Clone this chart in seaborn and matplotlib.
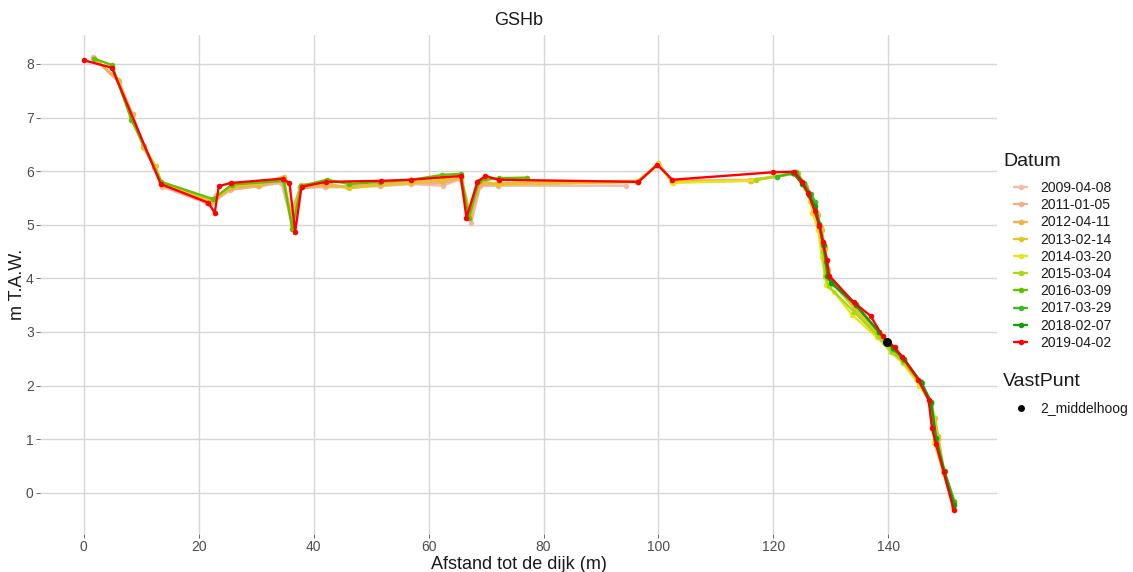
import matplotlib
matplotlib.use("Agg")
import matplotlib.pyplot as plt
from matplotlib.lines import Line2D
import seaborn as sns
import pandas as pd

# ---------------- data ----------------
dates = ["2009-04-08", "2011-01-05", "2012-04-11", "2013-02-14", "2014-03-20",
         "2015-03-04", "2016-03-09", "2017-03-29", "2018-02-07", "2019-04-02"]
colors = ["#F2BBA5", "#EFB083", "#EDB347", "#E6C32A", "#E8E61A",
          "#A8D814", "#62C000", "#3DB825", "#0E9E10", "#FF0000"]

x_2009 = [1.6, 6.1, 8.5, 10.5, 12.3, 13.6, 21.5, 23.0, 25.5, 30.5, 34.4, 36.2, 37.6,
          42.0, 46.0, 51.5, 57.0, 62.5, 65.5, 67.4, 69.0, 72.0, 94.3]
y_2009 = [8.13, 7.66, 7.05, 6.43, 6.08, 5.71, 5.40, 5.55, 5.65, 5.72, 5.78, 5.05, 5.70,
          5.70, 5.70, 5.72, 5.76, 5.73, 5.85, 5.03, 5.72, 5.73, 5.73]

x_2011 = [1.7, 6.1, 8.5, 10.4, 12.3, 13.6, 22.0, 25.6, 30.4, 34.6, 36.0, 37.6, 42.1,
          46.1, 51.6, 57.0, 62.5, 65.6, 67.2, 69.0, 72.1, 96.3, 100.0, 102.3, 116.0,
          123.5, 125.5, 126.5, 127.5, 128.2, 128.8, 129.4, 130.2, 134.2, 138.2, 140.5,
          142.5, 145.5, 147.3, 147.9, 148.5, 149.6, 151.3]
y_2011 = [8.12, 7.68, 7.06, 6.45, 6.07, 5.74, 5.38, 5.66, 5.72, 5.80, 5.14, 5.68, 5.72,
          5.72, 5.75, 5.78, 5.78, 5.86, 5.10, 5.74, 5.76, 5.80, 6.12, 5.82, 5.84,
          5.95, 5.72, 5.50, 5.22, 4.95, 4.60, 4.20, 3.95, 3.45, 2.98, 2.70,
          2.50, 2.08, 1.70, 1.30, 0.98, 0.40, -0.25]

x_2012 = [1.8, 6.0, 8.4, 10.5, 12.4, 13.5, 22.2, 25.7, 30.5, 34.5, 36.1, 37.7, 42.0,
          46.0, 51.5, 57.1, 62.4, 65.5, 67.1, 68.9, 72.0, 96.4, 100.0, 102.4, 116.1,
          123.7, 125.6, 126.6, 127.6, 128.3, 128.9, 129.3, 130.3, 134.3, 138.4, 140.6,
          142.7, 145.6, 147.4, 148.0, 148.6, 149.6, 151.3]
y_2012 = [8.11, 7.70, 7.04, 6.47, 6.09, 5.76, 5.42, 5.70, 5.74, 5.86, 5.20, 5.70, 5.74,
          5.70, 5.76, 5.80, 5.82, 5.88, 5.18, 5.78, 5.78, 5.82, 6.14, 5.80, 5.82,
          5.96, 5.70, 5.48, 5.20, 4.92, 4.58, 4.18, 3.92, 3.42, 2.96, 2.66,
          2.48, 2.05, 1.68, 1.35, 1.00, 0.38, -0.26]

x_2013 = [5.0, 8.3, 10.4, 12.5, 13.6, 22.4, 25.9, 30.6, 34.8, 36.3, 37.8, 42.2, 46.2,
          51.7, 57.0, 62.6, 65.7, 67.2, 69.0, 72.1, 96.5, 100.0, 102.4, 116.0,
          123.8, 125.7, 126.7, 127.7, 128.4, 129.0, 129.5, 130.4, 134.4, 138.5, 140.7,
          142.8, 145.7, 147.5, 148.1, 148.7, 149.7, 151.3]
y_2013 = [7.95, 7.02, 6.46, 6.10, 5.78, 5.45, 5.72, 5.76, 5.90, 5.00, 5.75, 5.78, 5.68,
          5.74, 5.78, 5.84, 5.90, 5.22, 5.82, 5.75, 5.80, 6.15, 5.80, 5.82,
          5.97, 5.70, 5.45, 5.18, 4.90, 4.55, 4.15, 3.90, 3.40, 2.95, 2.65,
          2.45, 2.05, 1.65, 1.40, 1.05, 0.40, -0.22]

x_2014 = [96.5, 100.0, 102.5, 117.0, 123.6, 125.5, 126.4, 126.8, 127.8, 128.4, 129.2,
          130.5, 133.7, 138.0, 140.5, 142.5, 145.4, 147.3, 147.6, 148.0, 149.6, 151.3]
y_2014 = [5.80, 6.13, 5.78, 5.83, 5.98, 5.68, 5.45, 5.22, 4.90, 4.40, 3.88,
          3.75, 3.32, 2.90, 2.62, 2.42, 2.00, 1.70, 1.49, 0.93, 0.37, -0.20]

x_2015 = [116.9, 120.7, 124.2, 125.5, 126.3, 127.3, 128.0, 128.6, 129.0, 129.6, 134.0,
          138.2, 140.6, 142.6, 145.6, 147.4, 148.2, 149.7, 151.5]
y_2015 = [5.84, 5.90, 5.96, 5.75, 5.55, 5.30, 4.95, 4.50, 4.05, 3.85, 3.38,
          2.92, 2.62, 2.44, 2.02, 1.66, 0.98, 0.38, -0.15]

x_2016 = [1.8, 4.9, 8.3, 13.5, 22.5, 25.8, 34.8, 36.3, 37.8, 42.3, 46.2, 51.6, 57.0,
          62.4, 65.6, 67.0, 68.8, 72.2, 77.2]
y_2016 = [8.10, 7.98, 6.96, 5.80, 5.48, 5.75, 5.82, 4.92, 5.72, 5.84, 5.76, 5.80, 5.84,
          5.93, 5.95, 5.13, 5.82, 5.87, 5.88]

x_2017 = [120.7, 124.0, 125.3, 126.5, 127.3, 128.0, 128.6, 129.2, 129.6, 134.3, 138.3,
          140.8, 142.8, 145.8, 147.5, 148.3, 149.8, 151.5]
y_2017 = [5.90, 5.98, 5.78, 5.58, 5.42, 5.00, 4.62, 4.30, 4.00, 3.52, 3.00,
          2.68, 2.48, 2.04, 1.68, 1.00, 0.40, -0.18]

x_2018 = [123.4, 125.0, 126.2, 127.2, 128.0, 128.8, 129.4, 130.0, 134.3, 138.4, 140.8,
          142.7, 145.7, 147.4, 148.3, 149.7, 151.4]
y_2018 = [5.97, 5.76, 5.56, 5.35, 5.02, 4.62, 4.05, 3.92, 3.50, 3.00, 2.70,
          2.50, 2.06, 1.70, 1.02, 0.40, -0.22]

x_2019 = [0.0, 4.9, 13.4, 21.7, 22.8, 23.5, 25.6, 34.6, 35.8, 36.8, 37.9, 42.2, 51.7,
          57.0, 65.6, 66.6, 68.5, 69.9, 72.2, 96.5, 99.8, 102.4, 120.0, 123.6,
          125.0, 126.0, 127.2, 128.0, 128.6, 129.3, 129.7, 134.0, 136.9, 139.0, 141.1,
          142.4, 145.2, 147.0, 147.6, 148.3, 149.6, 151.4]
y_2019 = [8.07, 7.93, 5.76, 5.41, 5.22, 5.72, 5.78, 5.86, 5.78, 4.87, 5.71, 5.80, 5.82,
          5.84, 5.91, 5.13, 5.80, 5.91, 5.84, 5.80, 6.12, 5.84, 5.98, 5.99,
          5.80, 5.60, 5.25, 4.97, 4.68, 4.35, 4.05, 3.55, 3.30, 2.92, 2.71,
          2.54, 2.11, 1.73, 1.20, 0.90, 0.39, -0.33]

vast_label = ["2_middelhoog"]
vast_x = [139.8]
vast_y = [2.81]

xs = [x_2009, x_2011, x_2012, x_2013, x_2014, x_2015, x_2016, x_2017, x_2018, x_2019]
ys = [y_2009, y_2011, y_2012, y_2013, y_2014, y_2015, y_2016, y_2017, y_2018, y_2019]

rows = []
for d, xx, yy in zip(dates, xs, ys):
    for a, b in zip(xx, yy):
        rows.append({"Datum": d, "x": a, "y": b})
df = pd.DataFrame(rows)
df_vast = pd.DataFrame({"VastPunt": vast_label, "x": vast_x, "y": vast_y})

# ---------------- style ----------------
sns.set_theme(style="white")
plt.rcParams["font.family"] = ["Liberation Sans", "DejaVu Sans"]

W, H = 1133, 572
fig = plt.figure(figsize=(W / 100, H / 100), dpi=100)
ax = fig.add_axes([40 / W, 1 - 534 / H, (997 - 40) / W, (534 - 34.5) / H])

palette = dict(zip(dates, colors))
sns.lineplot(data=df, x="x", y="y", hue="Datum", hue_order=dates, palette=palette,
             sort=False, estimator=None, marker="o", markersize=4.0,
             markeredgewidth=0, linewidth=1.7, legend=False, ax=ax, zorder=3)
sns.scatterplot(data=df_vast, x="x", y="y", color="black", s=42, linewidth=0,
                legend=False, ax=ax, zorder=5)

ax.set_xlim(-7.6, 158.9)
ax.set_ylim(-0.77, 8.55)
ax.set_xticks([0, 20, 40, 60, 80, 100, 120, 140])
ax.set_yticks(range(0, 9))
ax.grid(True, color="#D6D6D6", linewidth=1.0)
ax.set_axisbelow(True)
for s in ax.spines.values():
    s.set_visible(False)
ax.tick_params(axis="both", which="major", labelsize=10, labelcolor="#4D4D4D",
               color="#4D4D4D", length=3, width=0.6, pad=1.5, bottom=True, left=True)

ax.set_title("GSHb", fontsize=13, color="#1A1A1A", pad=7)
ax.set_xlabel("Afstand tot de dijk (m)", fontsize=13, color="#1A1A1A", labelpad=1)
ax.set_ylabel("m T.A.W.", fontsize=13, color="#1A1A1A")
ax.yaxis.set_label_coords(-0.0146, 0.5)

# ---------------- legends ----------------
fig.text(1003 / W, 1 - 161 / H, "Datum", fontsize=14, color="#1A1A1A",
         ha="left", va="center")
handles = [Line2D([0], [0], color=c, linewidth=1.7, marker="o", markersize=4.0,
                  markeredgewidth=0) for c in colors]
fig.legend(handles, dates, loc="upper left",
           bbox_to_anchor=(1014 / W, 1 - 181 / H), frameon=False,
           fontsize=10, handlelength=0.95, handletextpad=0.95, labelspacing=0.23,
           borderaxespad=0, borderpad=0, labelcolor="#1A1A1A")

fig.text(1003 / W, 1 - 381 / H, "VastPunt", fontsize=14, color="#1A1A1A",
         ha="left", va="center")
h2 = [Line2D([0], [0], color="black", linestyle="none", marker="o", markersize=5.0,
             markeredgewidth=0)]
fig.legend(h2, vast_label, loc="upper left",
           bbox_to_anchor=(1014 / W, 1 - 402 / H), frameon=False,
           fontsize=10, handlelength=0.95, handletextpad=0.95,
           borderaxespad=0, borderpad=0, labelcolor="#1A1A1A")

fig.savefig("out.png", dpi=100, facecolor="white")
